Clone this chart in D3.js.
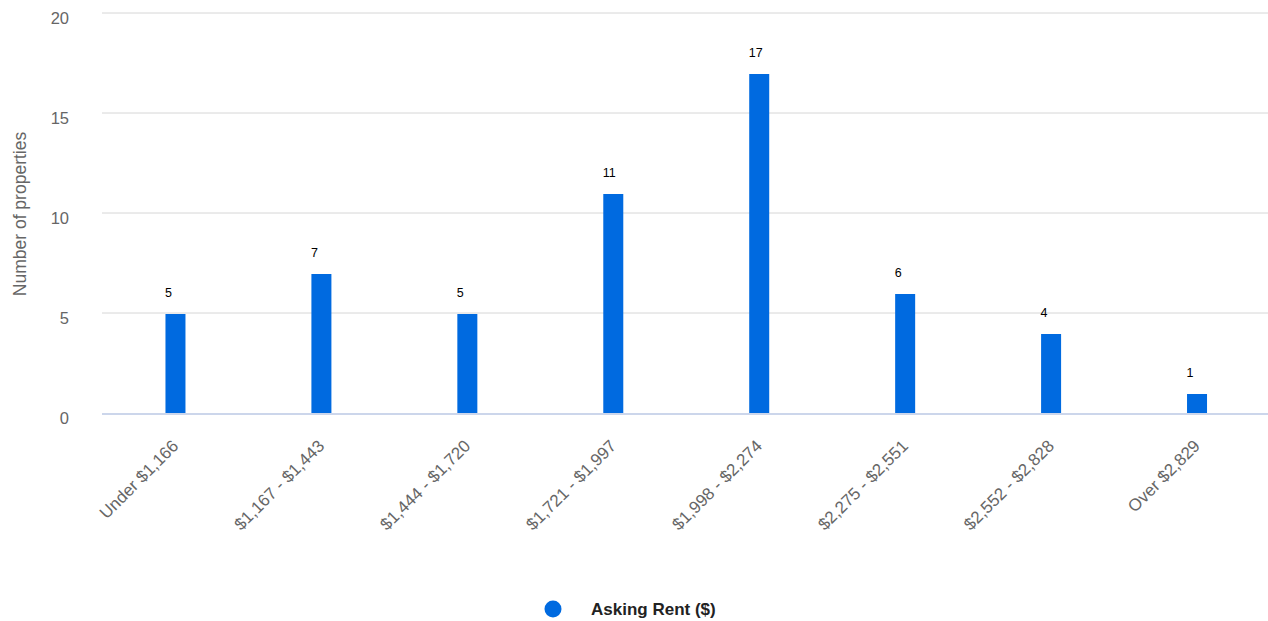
<!DOCTYPE html>
<html>
<head>
<meta charset="utf-8">
<script src="https://cdn.jsdelivr.net/npm/d3@7"></script>
<style>
  html, body { margin: 0; padding: 0; background: #fff; }
  svg { display: block; font-family: "Liberation Sans", Arial, Helvetica, sans-serif; }
</style>
</head>
<body>
<svg id="chart" width="1268" height="621"></svg>
<script>
// Rent bands and the number of listed properties in each
const categories = [
  "Under $1,166", "$1,167 - $1,443", "$1,444 - $1,720", "$1,721 - $1,997",
  "$1,998 - $2,274", "$2,275 - $2,551", "$2,552 - $2,828", "Over $2,829"
];
const counts = [5, 7, 5, 11, 17, 6, 4, 1];
const yTicks = [0, 5, 10, 15, 20];
const seriesName = "Asking Rent ($)";
const yTitle = "Number of properties";

const plot = { left: 102, right: 1268, top: 13, bottom: 413 };
const barColor = "#006ae0";

const svg = d3.select("#chart");

const x = d3.scaleBand()
  .domain(categories)
  .range([102.5, 1270]);

const y = d3.scaleLinear()
  .domain([0, 20])
  .range([plot.bottom, plot.top]);

// horizontal grid lines
svg.append("g")
  .selectAll("line")
  .data(yTicks.filter(t => t > 0))
  .join("line")
  .attr("x1", plot.left)
  .attr("x2", plot.right)
  .attr("y1", d => y(d))
  .attr("y2", d => y(d))
  .attr("stroke", "#d6d6d6")
  .attr("stroke-width", 1);

// y-axis tick labels
const yAxis = d3.axisLeft(y).tickValues(yTicks).tickSize(0).tickPadding(0);
const yg = svg.append("g")
  .attr("transform", `translate(${plot.left - 33},5)`)
  .call(yAxis);
yg.select(".domain").remove();
yg.selectAll("text")
  .attr("fill", "#666666")
  .style("font-size", "16.5px")
  .attr("dy", "0.32em");

// y-axis title
svg.append("text")
  .attr("transform", `translate(26,${(plot.top + plot.bottom) / 2 + 1}) rotate(-90)`)
  .attr("text-anchor", "middle")
  .attr("fill", "#666666")
  .style("font-size", "17.5px")
  .text(yTitle);

// bars
const barW = 20;
const barX = i => x(categories[i]) + x.bandwidth() / 2 - barW / 2;
svg.append("g")
  .selectAll("rect")
  .data(counts)
  .join("rect")
  .attr("x", (d, i) => barX(i))
  .attr("y", d => y(d) + 1)
  .attr("width", barW)
  .attr("height", d => y(0) - y(d) - 1)
  .attr("fill", barColor);

// x axis baseline
svg.append("line")
  .attr("x1", plot.left)
  .attr("x2", plot.right)
  .attr("y1", plot.bottom + 1)
  .attr("y2", plot.bottom + 1)
  .attr("stroke", "#ccd6eb")
  .attr("stroke-width", 2);

// value labels above bars, aligned to the bar's left edge
svg.append("g")
  .selectAll("text")
  .data(counts)
  .join("text")
  .attr("x", (d, i) => barX(i) - 0.5)
  .attr("y", d => y(d) - 16)
  .attr("text-anchor", "start")
  .attr("fill", "#000")
  .style("font-size", "12.5px")
  .text(d => d);

// rotated category labels
const xAxis = d3.axisBottom(x).tickSize(0).tickPadding(0);
const xg = svg.append("g")
  .attr("transform", `translate(0,${plot.bottom})`)
  .call(xAxis);
xg.select(".domain").remove();
xg.selectAll("text")
  .attr("fill", "#666666")
  .style("font-size", "17px")
  .attr("text-anchor", "end")
  .attr("dy", 0)
  .attr("y", 0)
  .attr("transform", "translate(4,34) rotate(-45)");

// legend
const legend = svg.append("g");
legend.append("circle")
  .attr("cx", 553)
  .attr("cy", 609)
  .attr("r", 8.5)
  .attr("fill", barColor);
legend.append("text")
  .attr("x", 591)
  .attr("y", 614.5)
  .attr("fill", "#222222")
  .style("font-size", "17px")
  .style("font-weight", "bold")
  .text(seriesName);
</script>
</body>
</html>
